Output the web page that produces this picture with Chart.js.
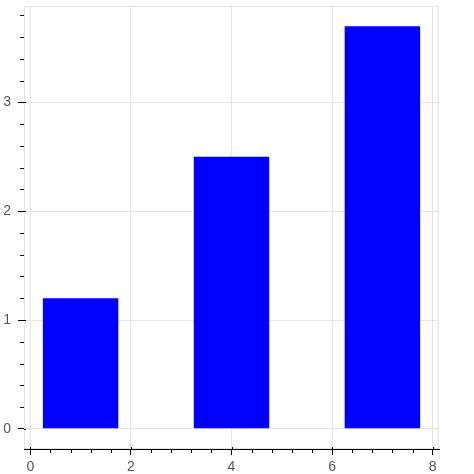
<!DOCTYPE html>
<html>
<head>
<meta charset="utf-8">
<script src="https://cdn.jsdelivr.net/npm/chart.js@4"></script>
<style>
  html, body { margin: 0; padding: 0; background: #fff; }
  #wrap { width: 474px; height: 474px; position: relative; }
</style>
</head>
<body>
<div id="wrap"><canvas id="c"></canvas></div>
<script>
const xPositions = [1, 4, 7];
const barHeights = [1.2, 2.5, 3.7];
const xTickValues = [0, 2, 4, 6, 8];
const yTickValues = [0, 1, 2, 3];
const xRange = [-0.125, 8.125];
const yRange = [-0.185, 3.885];

const points = xPositions.map((x, i) => ({ x: x, y: barHeights[i] }));

const frameAndTicks = {
  id: 'frameAndTicks',
  beforeDatasetsDraw(chart) {
    const ctx = chart.ctx, a = chart.chartArea;
    ctx.save();
    ctx.strokeStyle = '#e5e5e5';
    ctx.lineWidth = 1;
    ctx.strokeRect(a.left + 0.5, a.top + 0.5, a.right - a.left - 1, a.bottom - a.top - 1);
    ctx.restore();
  },
  afterDraw(chart) {
    const ctx = chart.ctx, a = chart.chartArea;
    const xs = chart.scales.x, ys = chart.scales.y;
    ctx.save();
    ctx.strokeStyle = '#000';
    ctx.lineWidth = 1;
    ctx.beginPath();
    for (let i = -1; i <= 21; i++) {
      const v = i * 0.4;
      if (v < xRange[0] || v > xRange[1]) continue;
      const px = Math.round(xs.getPixelForValue(v)) + 0.5;
      if (i % 5 === 0) {
        ctx.moveTo(px, a.bottom); ctx.lineTo(px, a.bottom - 2);
      } else {
        ctx.moveTo(px, a.bottom); ctx.lineTo(px, a.bottom + 4);
      }
    }
    for (let i = -1; i <= 20; i++) {
      const v = i * 0.2;
      if (v < yRange[0] || v > yRange[1]) continue;
      const py = Math.round(ys.getPixelForValue(v)) + 0.5;
      if (i % 5 === 0) {
        ctx.moveTo(a.left, py); ctx.lineTo(a.left + 2, py);
      } else {
        ctx.moveTo(a.left, py); ctx.lineTo(a.left - 4, py);
      }
    }
    ctx.stroke();
    ctx.restore();
  }
};

new Chart(document.getElementById('c'), {
  type: 'bar',
  data: {
    datasets: [{
      data: points,
      backgroundColor: '#0000ff',
      borderWidth: 0,
      barPercentage: 0.75,
      categoryPercentage: 1.0
    }]
  },
  options: {
    responsive: true,
    maintainAspectRatio: false,
    animation: false,
    layout: { padding: { left: 0, top: 6, right: 35, bottom: 0 } },
    plugins: { legend: { display: false }, tooltip: { enabled: false } },
    scales: {
      x: {
        type: 'linear',
        min: xRange[0],
        max: xRange[1],
        offset: false,
        afterBuildTicks: (s) => { s.ticks = xTickValues.map(v => ({ value: v })); },
        afterFit: (s) => { s.height = 25; s.paddingLeft = 0; s.paddingRight = 0; s.paddingTop = 0; s.paddingBottom = 0; },
        grid: { color: '#e5e5e5', tickColor: '#000', tickLength: 6, offset: false, drawTicks: true },
        border: { color: '#000', width: 1 },
        ticks: {
          includeBounds: false,
          maxRotation: 0,
          autoSkip: false,
          padding: 4,
          color: '#555',
          font: { family: '"Liberation Sans", Arial, Helvetica, sans-serif', size: 14 }
        }
      },
      y: {
        type: 'linear',
        min: yRange[0],
        max: yRange[1],
        afterBuildTicks: (s) => { s.ticks = yTickValues.map(v => ({ value: v })); },
        afterFit: (s) => { s.width = 24; s.paddingLeft = 0; s.paddingRight = 0; s.paddingTop = 0; s.paddingBottom = 0; },
        grid: { color: '#e5e5e5', tickColor: '#000', tickLength: 6, drawTicks: true },
        border: { color: '#000', width: 1 },
        ticks: {
          includeBounds: false,
          autoSkip: false,
          padding: 7,
          color: '#555',
          font: { family: '"Liberation Sans", Arial, Helvetica, sans-serif', size: 14 }
        }
      }
    }
  },
  plugins: [frameAndTicks]
});
</script>
</body>
</html>
